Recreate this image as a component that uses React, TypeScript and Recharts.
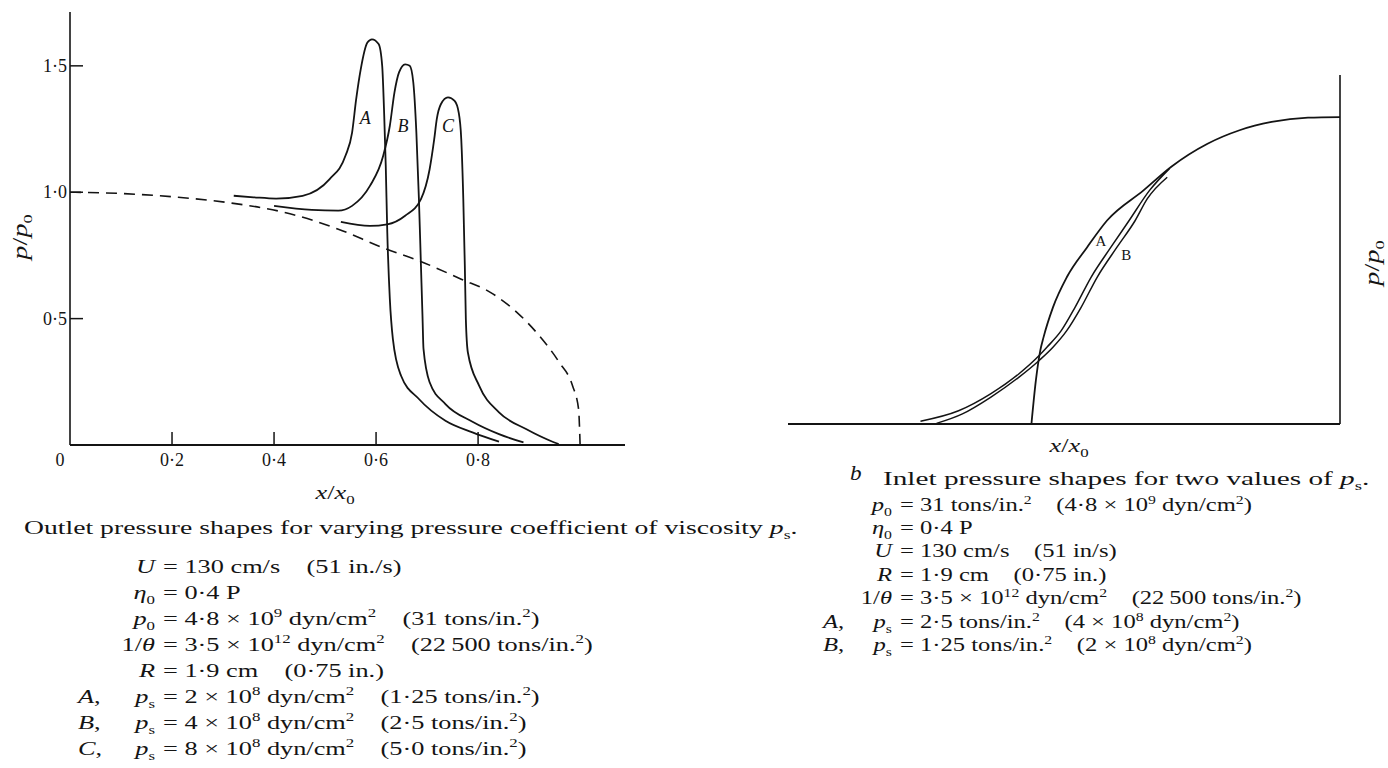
import React from 'react';
import { LineChart, Line, XAxis, YAxis, ReferenceDot } from 'recharts';

// ---- Outlet region: p/p0 against x/x0 ----
// dashed reference (dry contact) curve
const outletDry = [
  { x: 0, y: 1.0 }, { x: 0.1, y: 0.995 }, { x: 0.212, y: 0.98 }, { x: 0.317, y: 0.957 },
  { x: 0.421, y: 0.92 }, { x: 0.526, y: 0.854 }, { x: 0.614, y: 0.78 }, { x: 0.684, y: 0.729 },
  { x: 0.767, y: 0.656 }, { x: 0.824, y: 0.604 }, { x: 0.876, y: 0.525 }, { x: 0.92, y: 0.432 },
  { x: 0.959, y: 0.327 }, { x: 0.985, y: 0.235 }, { x: 0.997, y: 0.142 }, { x: 1.0, y: 0 },
];
const outletA = [
  { x: 0.321, y: 0.986 }, { x: 0.36, y: 0.98 }, { x: 0.404, y: 0.975 }, { x: 0.456, y: 0.986 },
  { x: 0.509, y: 1.052 }, { x: 0.54, y: 1.144 }, { x: 0.553, y: 1.236 }, { x: 0.561, y: 1.368 },
  { x: 0.57, y: 1.487 }, { x: 0.583, y: 1.592 }, { x: 0.592, y: 1.605 }, { x: 0.605, y: 1.586 },
  { x: 0.612, y: 1.5 }, { x: 0.616, y: 1.302 }, { x: 0.619, y: 1.104 }, { x: 0.622, y: 0.841 },
  { x: 0.627, y: 0.577 }, { x: 0.633, y: 0.419 }, { x: 0.649, y: 0.274 }, { x: 0.684, y: 0.182 },
  { x: 0.736, y: 0.096 }, { x: 0.789, y: 0.05 }, { x: 0.841, y: 0.013 },
];
const outletB = [
  { x: 0.4, y: 0.946 }, { x: 0.474, y: 0.93 }, { x: 0.526, y: 0.927 }, { x: 0.553, y: 0.946 },
  { x: 0.588, y: 1.025 }, { x: 0.614, y: 1.144 }, { x: 0.627, y: 1.263 }, { x: 0.636, y: 1.394 },
  { x: 0.645, y: 1.474 }, { x: 0.657, y: 1.506 }, { x: 0.666, y: 1.5 }, { x: 0.673, y: 1.434 },
  { x: 0.679, y: 1.236 }, { x: 0.684, y: 0.973 }, { x: 0.688, y: 0.709 }, { x: 0.691, y: 0.511 },
  { x: 0.693, y: 0.38 }, { x: 0.705, y: 0.248 }, { x: 0.736, y: 0.162 }, { x: 0.789, y: 0.092 },
  { x: 0.841, y: 0.043 }, { x: 0.889, y: 0.01 },
];
const outletC = [
  { x: 0.531, y: 0.883 }, { x: 0.588, y: 0.867 }, { x: 0.622, y: 0.873 }, { x: 0.657, y: 0.907 },
  { x: 0.688, y: 0.973 }, { x: 0.705, y: 1.091 }, { x: 0.714, y: 1.21 }, { x: 0.719, y: 1.289 },
  { x: 0.727, y: 1.348 }, { x: 0.741, y: 1.375 }, { x: 0.754, y: 1.361 }, { x: 0.762, y: 1.315 },
  { x: 0.767, y: 1.21 }, { x: 0.771, y: 0.973 }, { x: 0.774, y: 0.709 }, { x: 0.776, y: 0.498 },
  { x: 0.78, y: 0.366 }, { x: 0.802, y: 0.235 }, { x: 0.841, y: 0.129 }, { x: 0.894, y: 0.063 },
  { x: 0.946, y: 0.013 }, { x: 0.958, y: 0.004 },
];
const outletTicksX = [0, 0.2, 0.4, 0.6, 0.8];
const outletTicksY = [0.5, 1.0, 1.5];
const outletCurveLabels = [
  { name: 'A', x: 0.579, y: 1.296 },
  { name: 'B', x: 0.653, y: 1.263 },
  { name: 'C', x: 0.741, y: 1.263 },
];

// ---- Inlet region (unscaled axes) ----
const inletOuter = [
  { x: 0.441, y: 0 }, { x: 0.449, y: 0.141 }, { x: 0.457, y: 0.239 }, { x: 0.463, y: 0.283 },
  { x: 0.48, y: 0.38 }, { x: 0.505, y: 0.478 }, { x: 0.542, y: 0.576 }, { x: 0.578, y: 0.663 },
  { x: 0.644, y: 0.761 }, { x: 0.695, y: 0.839 }, { x: 0.76, y: 0.913 }, { x: 0.818, y: 0.957 },
  { x: 0.876, y: 0.984 }, { x: 0.942, y: 0.998 }, { x: 1.0, y: 1.0 },
];
const inletA = [
  { x: 0.24, y: 0.009 }, { x: 0.309, y: 0.043 }, { x: 0.367, y: 0.098 }, { x: 0.418, y: 0.163 },
  { x: 0.455, y: 0.223 }, { x: 0.469, y: 0.25 }, { x: 0.495, y: 0.304 }, { x: 0.52, y: 0.38 },
  { x: 0.549, y: 0.478 }, { x: 0.585, y: 0.576 }, { x: 0.618, y: 0.663 }, { x: 0.655, y: 0.761 },
  { x: 0.691, y: 0.832 },
];
const inletB = [
  { x: 0.269, y: 0.002 }, { x: 0.316, y: 0.033 }, { x: 0.367, y: 0.087 }, { x: 0.418, y: 0.152 },
  { x: 0.455, y: 0.207 }, { x: 0.48, y: 0.25 }, { x: 0.505, y: 0.304 }, { x: 0.531, y: 0.38 },
  { x: 0.56, y: 0.478 }, { x: 0.596, y: 0.576 }, { x: 0.629, y: 0.663 }, { x: 0.651, y: 0.734 },
  { x: 0.687, y: 0.804 },
];
const inletCurveLabels = [
  { name: 'A', x: 0.567, y: 0.598 },
  { name: 'B', x: 0.613, y: 0.553 },
];

const INK = '#141414';
const SERIF = '"Liberation Serif", "DejaVu Serif", serif';
const WIDE = 1.35; // horizontal stretch of the book's wide typeface

const dot = (v: number) => (v === 0 ? '0' : v.toFixed(1).replace('.', '\u00b7'));

// rich text: segments with italic / sub / sup flags
type Seg = { t: string; i?: boolean; sub?: boolean; sup?: boolean };
const T = (t: string): Seg => ({ t });
const I = (t: string): Seg => ({ t, i: true });
const S = (t: string): Seg => ({ t, sub: true });
const P = (t: string): Seg => ({ t, sup: true });

function Rich({ x, y, segs, size = 19.5, anchor = 'start', sx = WIDE }: { x: number; y: number; segs: Seg[]; size?: number; anchor?: string; sx?: number }) {
  let shift = 0;
  return (
    <g transform={`translate(${x} ${y}) scale(${sx} 1)`}>
      <text x={0} y={0} fontSize={size} fontFamily={SERIF} fill={INK} textAnchor={anchor as any} style={{ whiteSpace: 'pre' }}>
        {segs.map((s, k) => {
          const target = s.sub ? size * 0.26 : s.sup ? -size * 0.4 : 0;
          const dy = target - shift;
          shift = target;
          return (
            <tspan key={k} dy={dy !== 0 ? dy : undefined} fontStyle={s.i ? 'italic' : undefined}
              fontSize={s.sub || s.sup ? size * 0.64 : undefined}>{s.t}</tspan>
          );
        })}
      </text>
    </g>
  );
}

const XTickOutlet = (props: any) => {
  const { x, y, payload } = props;
  const v = payload.value as number;
  return (
    <g>
      {v !== 0 && <line x1={x} y1={y} x2={x} y2={y - 13} stroke={INK} strokeWidth={1.5} />}
      <text x={v === 0 ? x - 10 : x} y={y + 21} textAnchor="middle" fontSize={18} fontFamily={SERIF} fill={INK}>{dot(v)}</text>
    </g>
  );
};
const YTickOutlet = (props: any) => {
  const { x, y, payload } = props;
  return (
    <g>
      <line x1={x} y1={y} x2={x + 13} y2={y} stroke={INK} strokeWidth={1.5} />
      <text x={x - 3} y={y + 6} textAnchor="end" fontSize={18} fontFamily={SERIF} fill={INK}>{dot(payload.value)}</text>
    </g>
  );
};

const curveLabel = (name: string, size: number, italic: boolean) => ({
  value: name, position: 'center' as const, fill: INK, fontSize: size,
  fontFamily: SERIF, fontStyle: italic ? 'italic' : 'normal',
});

type Row = { lead?: Seg[]; lhs: Seg[]; rhs: Seg[]; y: number };

const leftParams: Row[] = [
  { y: 573, lhs: [I('U')], rhs: [T('= 130 cm/s    (51 in./s)')] },
  { y: 599, lhs: [I('\u03b7'), S('0')], rhs: [T('= 0\u00b74 P')] },
  { y: 625, lhs: [I('p'), S('0')], rhs: [T('= 4\u00b78 \u00d7 10'), P('9'), T(' dyn/cm'), P('2'), T('    (31 tons/in.'), P('2'), T(')')] },
  { y: 651, lhs: [T('1/'), I('\u03b8')], rhs: [T('= 3\u00b75 \u00d7 10'), P('12'), T(' dyn/cm'), P('2'), T('    (22\u2009500 tons/in.'), P('2'), T(')')] },
  { y: 677, lhs: [I('R')], rhs: [T('= 1\u00b79 cm    (0\u00b775 in.)')] },
  { y: 703, lead: [I('A'), T(',')], lhs: [I('p'), S('s')], rhs: [T('= 2 \u00d7 10'), P('8'), T(' dyn/cm'), P('2'), T('    (1\u00b725 tons/in.'), P('2'), T(')')] },
  { y: 729, lead: [I('B'), T(',')], lhs: [I('p'), S('s')], rhs: [T('= 4 \u00d7 10'), P('8'), T(' dyn/cm'), P('2'), T('    (2\u00b75 tons/in.'), P('2'), T(')')] },
  { y: 755, lead: [I('C'), T(',')], lhs: [I('p'), S('s')], rhs: [T('= 8 \u00d7 10'), P('8'), T(' dyn/cm'), P('2'), T('    (5\u00b70 tons/in.'), P('2'), T(')')] },
];

const rightParams: Row[] = [
  { y: 511, lhs: [I('p'), S('0')], rhs: [T('= 31 tons/in.'), P('2'), T('    (4\u00b78 \u00d7 10'), P('9'), T(' dyn/cm'), P('2'), T(')')] },
  { y: 534, lhs: [I('\u03b7'), S('0')], rhs: [T('= 0\u00b74 P')] },
  { y: 557, lhs: [I('U')], rhs: [T('= 130 cm/s    (51 in/s)')] },
  { y: 581, lhs: [I('R')], rhs: [T('= 1\u00b79 cm    (0\u00b775 in.)')] },
  { y: 604, lhs: [T('1/'), I('\u03b8')], rhs: [T('= 3\u00b75 \u00d7 10'), P('12'), T(' dyn/cm'), P('2'), T('    (22\u2009500 tons/in.'), P('2'), T(')')] },
  { y: 628, lead: [I('A'), T(',')], lhs: [I('p'), S('s')], rhs: [T('= 2\u00b75 tons/in.'), P('2'), T('    (4 \u00d7 10'), P('8'), T(' dyn/cm'), P('2'), T(')')] },
  { y: 651, lead: [I('B'), T(',')], lhs: [I('p'), S('s')], rhs: [T('= 1\u00b725 tons/in.'), P('2'), T('    (2 \u00d7 10'), P('8'), T(' dyn/cm'), P('2'), T(')')] },
];

function ParamBlock({ rows, eqX, leadX, size, sx }: { rows: Row[]; eqX: number; leadX: number; size: number; sx: number }) {
  return (
    <g>
      {rows.map((r, k) => (
        <g key={k}>
          {r.lead && <Rich x={leadX} y={r.y} segs={r.lead} size={size} sx={sx} />}
          <Rich x={eqX - 8} y={r.y} segs={r.lhs} anchor="end" size={size} sx={sx} />
          <Rich x={eqX} y={r.y} segs={r.rhs} size={size} sx={sx} />
        </g>
      ))}
    </g>
  );
}

export default function App() {
  return (
    <div style={{ position: 'absolute', left: 0, top: 0, width: 1388, height: 768, background: '#fff', overflow: 'hidden' }}>
      {/* outlet pressure chart */}
      <div style={{ position: 'absolute', left: 0, top: 0 }}>
        <LineChart width={700} height={470} margin={{ top: 12, left: 69, right: 75, bottom: 24 }}>
          <XAxis type="number" dataKey="x" domain={[0, 1.088]} ticks={outletTicksX} allowDataOverflow
            height={1} tickSize={0} tickMargin={0} tickLine={false} tick={<XTickOutlet />} interval={0}
            axisLine={{ stroke: INK, strokeWidth: 2 }} />
          <YAxis type="number" dataKey="y" domain={[0, 1.713]} ticks={outletTicksY} allowDataOverflow
            width={1} tickSize={0} tickMargin={0} tickLine={false} tick={<YTickOutlet />} interval={0}
            axisLine={{ stroke: INK, strokeWidth: 1.6 }} />
          <Line data={outletDry} dataKey="y" type="monotone" stroke={INK} strokeWidth={1.6}
            strokeDasharray="11 7" dot={false} isAnimationActive={false} />
          <Line data={outletA} dataKey="y" type="monotone" stroke={INK} strokeWidth={1.8} dot={false} isAnimationActive={false} />
          <Line data={outletB} dataKey="y" type="monotone" stroke={INK} strokeWidth={1.8} dot={false} isAnimationActive={false} />
          <Line data={outletC} dataKey="y" type="monotone" stroke={INK} strokeWidth={1.8} dot={false} isAnimationActive={false} />
          {outletCurveLabels.map((l) => (
            <ReferenceDot key={l.name} x={l.x} y={l.y} r={0} fill="none" stroke="none"
              label={curveLabel(l.name, 18, true)} />
          ))}
        </LineChart>
      </div>

      {/* inlet pressure chart */}
      <div style={{ position: 'absolute', left: 760, top: 40 }}>
        <LineChart width={628} height={420} margin={{ top: 35, left: 28, right: 47, bottom: 35 }}>
          <XAxis type="number" dataKey="x" domain={[0, 1]} height={1} tick={false} tickLine={false}
            axisLine={{ stroke: INK, strokeWidth: 2 }} />
          <YAxis type="number" dataKey="y" orientation="right" domain={[0, 1.137]} width={1} tick={false}
            tickLine={false} axisLine={{ stroke: INK, strokeWidth: 1.6 }} />
          <Line data={inletOuter} dataKey="y" type="monotone" stroke={INK} strokeWidth={1.8} dot={false} isAnimationActive={false} />
          <Line data={inletA} dataKey="y" type="monotone" stroke={INK} strokeWidth={1.5} dot={false} isAnimationActive={false} />
          <Line data={inletB} dataKey="y" type="monotone" stroke={INK} strokeWidth={1.5} dot={false} isAnimationActive={false} />
          {inletCurveLabels.map((l) => (
            <ReferenceDot key={l.name} x={l.x} y={l.y} r={0} fill="none" stroke="none"
              label={curveLabel(l.name, 15, false)} />
          ))}
        </LineChart>
      </div>

      {/* axis titles and captions */}
      <svg width={1388} height={768} style={{ position: 'absolute', left: 0, top: 0, pointerEvents: 'none' }}>
        <g transform="translate(27 237) rotate(-90)">
          <Rich x={0} y={0} segs={[I('p'), T('/'), I('p'), S('0')]} size={21} anchor="middle" />
        </g>
        <Rich x={335} y={499} segs={[I('x'), T('/'), I('x'), S('0')]} size={19.5} anchor="middle" />
        <Rich x={24} y={534} segs={[T('Outlet pressure shapes for varying pressure coefficient of viscosity '), I('p'), S('s'), T('.')]} size={19.5} sx={1.42} />
        <ParamBlock rows={leftParams} eqX={163} leadX={78} size={19.5} sx={WIDE} />

        <g transform="translate(1379 263) rotate(-90)">
          <Rich x={0} y={0} segs={[I('p'), T('/'), I('p'), S('0')]} size={21} anchor="middle" />
        </g>
        <Rich x={1069} y={452} segs={[I('x'), T('/'), I('x'), S('0')]} size={19.5} anchor="middle" />
        <Rich x={850} y={480} segs={[I('b')]} size={21} sx={1.1} />
        <Rich x={883} y={485} segs={[T('Inlet pressure shapes for two values of '), I('p'), S('s'), T('.')]} size={19.5} sx={1.5} />
        <ParamBlock rows={rightParams} eqX={900} leadX={823} size={18.5} sx={1.33} />
      </svg>
    </div>
  );
}
